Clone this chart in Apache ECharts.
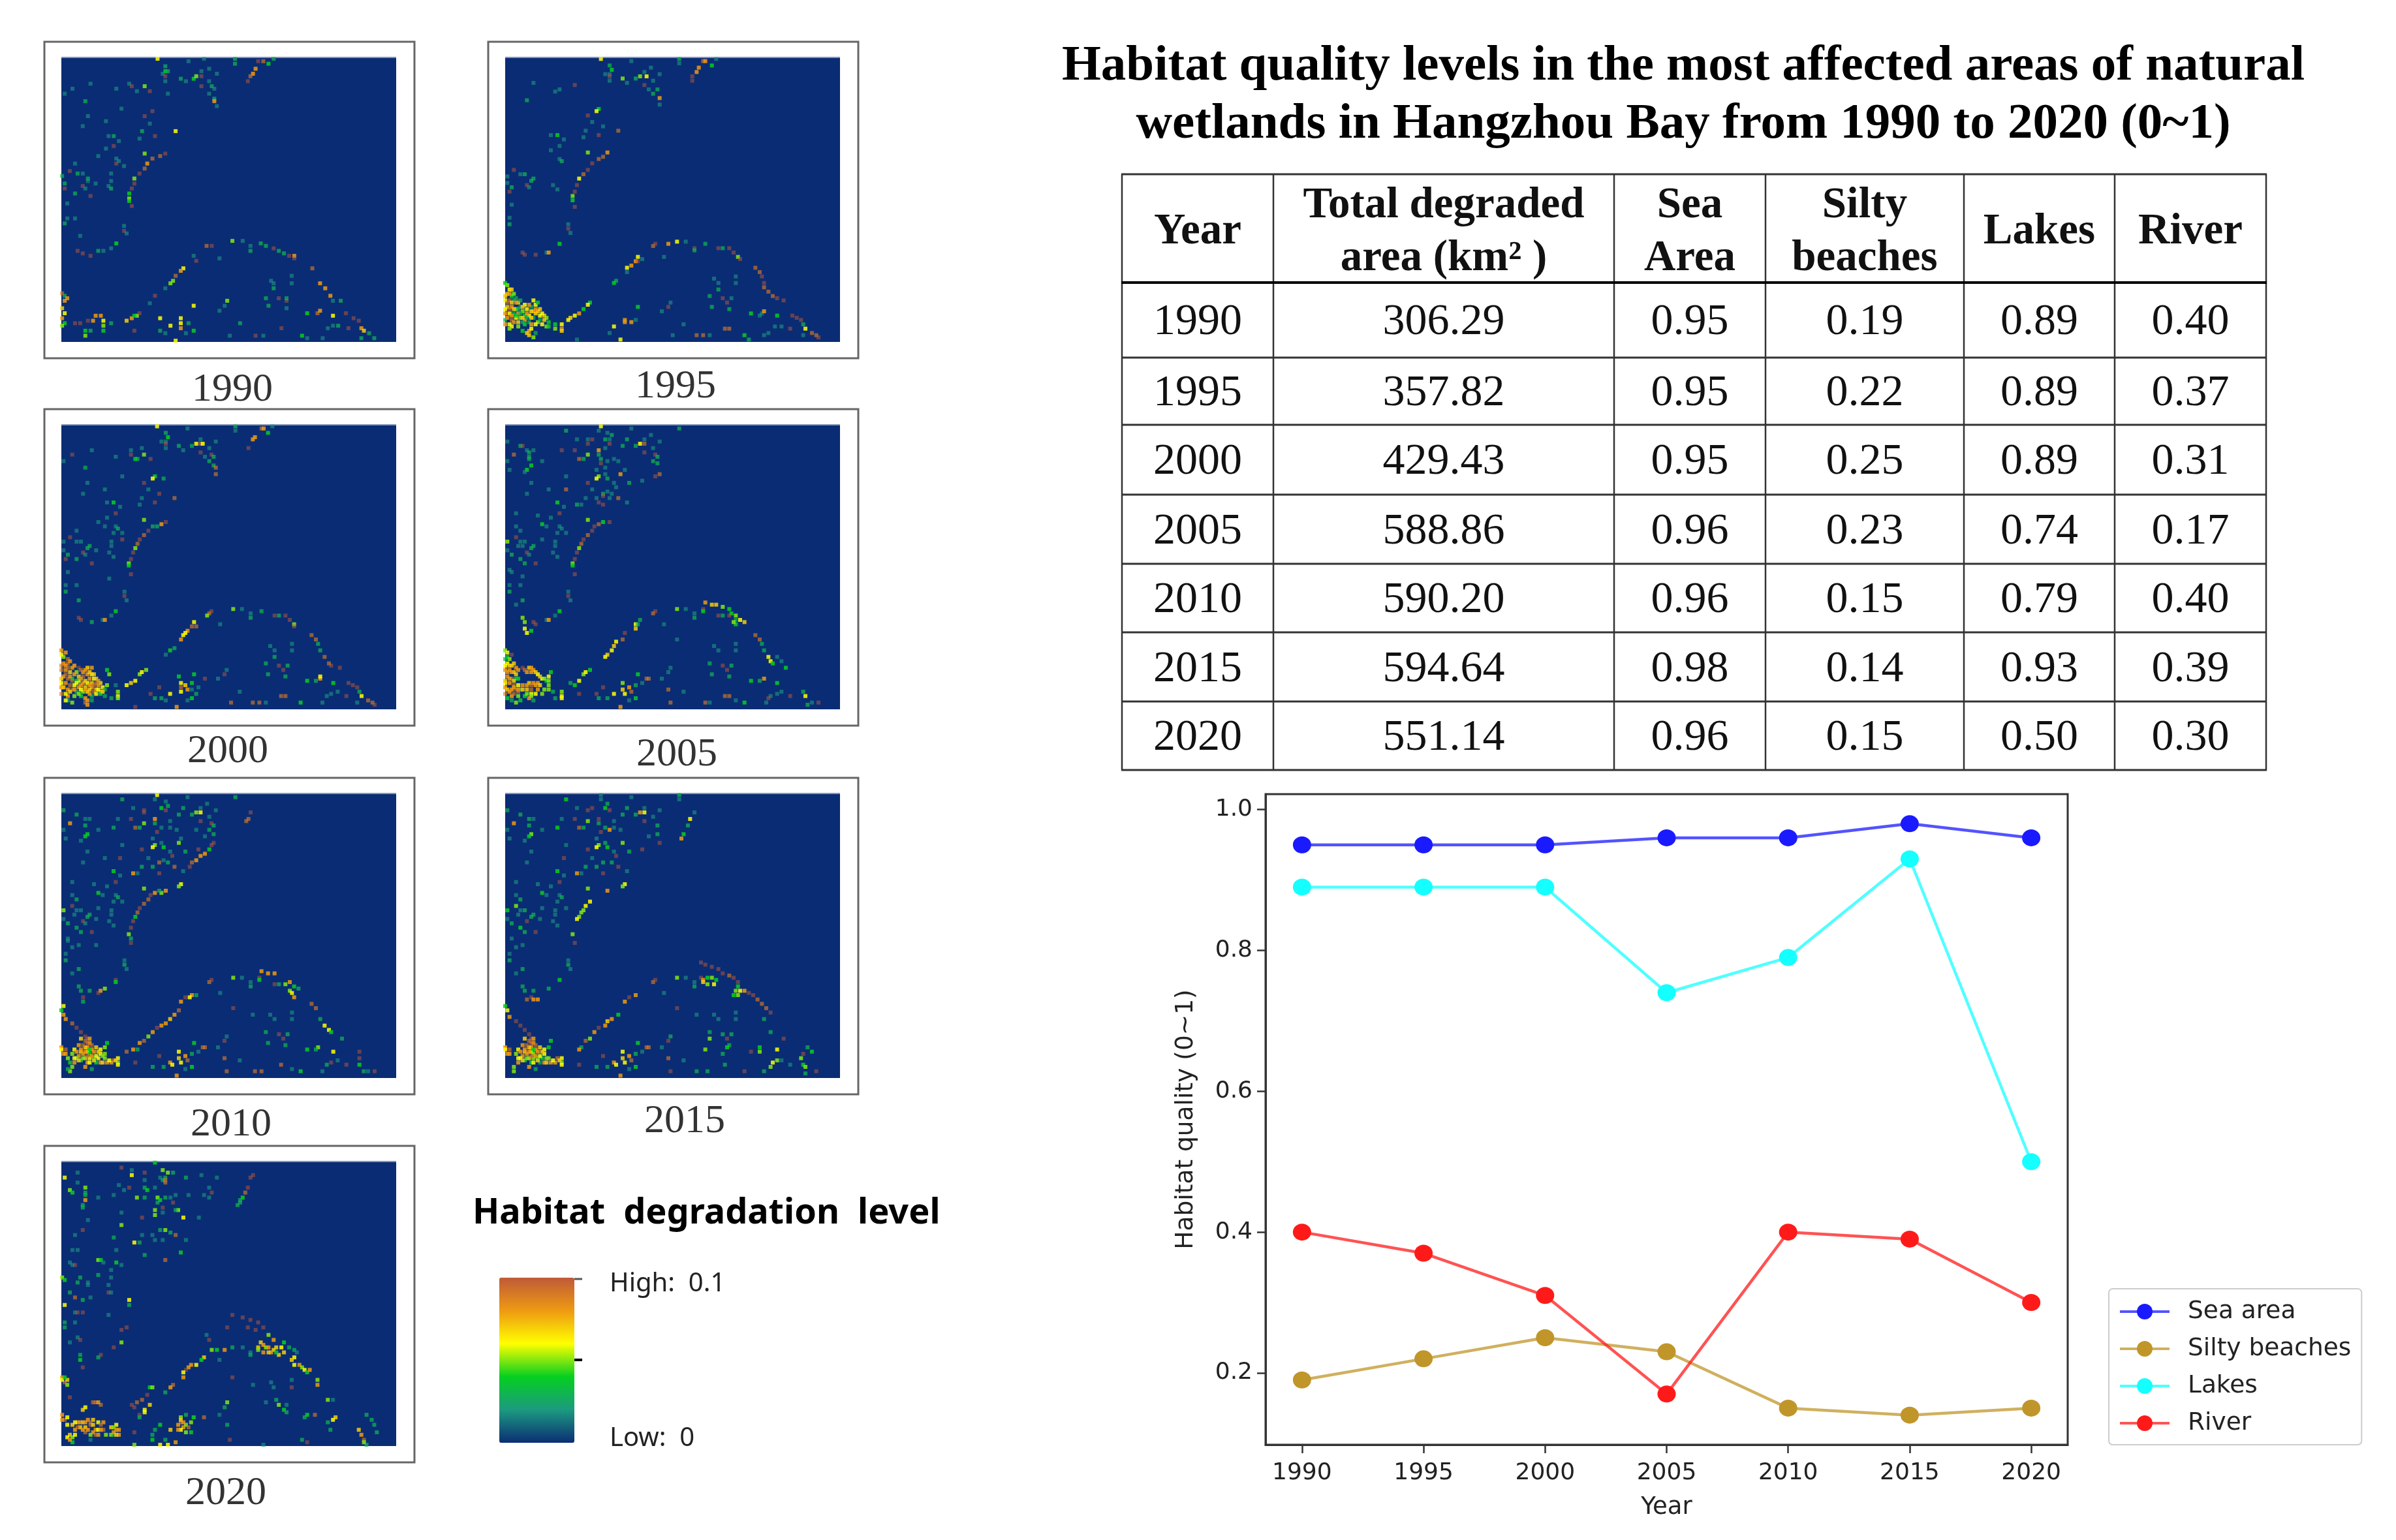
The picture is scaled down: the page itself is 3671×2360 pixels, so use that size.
<!DOCTYPE html>
<html><head><meta charset="utf-8">
<script src="https://cdn.jsdelivr.net/npm/echarts@6/dist/echarts.min.js"></script>
<style>html,body{margin:0;background:#fff}#c{width:3671px;height:2360px}</style></head>
<body><div id="c"></div>
<script>
const years=[1990,1995,2000,2005,2010,2015,2020];
const seaArea=[0.95,0.95,0.95,0.96,0.96,0.98,0.96];
const siltyBeaches=[0.19,0.22,0.25,0.23,0.15,0.14,0.15];
const lakes=[0.89,0.89,0.89,0.74,0.79,0.93,0.50];
const river=[0.40,0.37,0.31,0.17,0.40,0.39,0.30];
const totalArea=['306.29','357.82','429.43','588.86','590.20','594.64','551.14'];
const yTicks=[0.2,0.4,0.6,0.8,1.0];
// raster speckles: x, y, level (level/100 = degradation)
const map1990=[51,13,6,63,14,2,69,13,2,81,13,3,81,15,3,54,16,3,54,18,4,55,18,3,53,19,2,54,20,10,54,22,2,60,21,3,62,22,2,65,21,4,66,20,5,68,20,10,68,18,2,71,17,2,74,19,2,71,22,2,72,24,3,73,25,2,68,24,10,71,27,2,73,29,3,73,30,8,74,32,2,90,14,10,92,14,9,94,15,4,96,13,3,89,17,8,88,19,8,87,20,9,86,22,10,18,25,2,25,23,2,15,27,2,35,25,2,23,30,3,40,23,2,41,24,10,43,26,2,46,24,5,48,26,10,55,27,2,37,33,2,49,34,10,46,36,10,24,36,2,31,38,2,48,39,2,22,40,2,45,42,3,58,42,6,50,44,10,44,45,2,32,44,2,34,44,3,36,46,2,34,48,10,46,51,5,31,49,2,28,52,2,35,53,2,36,54,2,35,55,10,38,56,2,19,55,2,14,60,3,17,58,10,20,59,3,22,59,2,24,61,3,24,62,2,33,59,2,33,62,2,32,64,2,33,65,3,27,63,2,22,64,10,23,65,2,19,67,3,25,68,10,15,63,3,15,65,10,54,51,10,52,52,9,49,53,9,47,55,8,46,57,9,44,59,10,42,61,5,42,63,10,41,65,10,40,67,4,40,69,5,40,70,4,41,72,10,16,71,2,16,77,2,19,77,2,15,79,3,38,80,2,38,82,10,39,83,2,21,84,2,35,87,4,33,89,2,30,90,2,28,90,3,20,90,10,22,91,10,25,92,10,70,88,9,72,88,10,80,86,5,84,86,2,87,88,2,87,90,3,91,87,3,93,88,3,96,89,10,98,90,3,100,91,3,102,92,10,104,92,8,104,93,10,65,92,2,66,94,10,75,93,2,61,97,6,60,98,8,58,100,9,57,102,5,56,103,5,54,105,2,50,108,10,48,111,2,111,97,9,114,103,8,116,105,8,118,108,8,119,110,2,122,110,3,95,102,2,96,103,2,103,100,2,103,103,2,96,105,3,93,109,3,98,109,10,101,110,10,101,109,3,94,112,3,101,113,2,78,110,5,77,112,2,75,114,2,65,112,6,109,115,4,113,115,9,114,114,8,119,116,6,124,115,10,127,117,10,129,118,10,130,121,8,131,122,7,133,123,3,135,125,3,117,121,2,119,120,2,121,120,3,125,121,10,99,121,10,83,119,3,79,124,2,89,124,10,92,124,2,107,124,4,109,125,2,115,125,2,130,125,3,60,117,6,60,119,6,60,121,8,56,120,6,52,117,6,52,122,3,54,123,2,63,119,3,62,123,2,65,122,4,58,126,6,42,122,10,14,107,9,15,108,3,15,110,8,14,113,7,15,115,6,14,117,8,16,109,8,15,119,4,14,120,5,19,119,10,21,119,10,24,118,10,26,118,8,27,116,8,29,116,8,30,118,6,30,120,5,33,119,3,30,122,4,23,122,4,23,124,5,25,122,3,39,118,7,41,117,8,43,116,5,44,115,10,42,116,4];
const map1995=[44,1,6,58,2,2,80,1,3,80,3,2,91,2,9,92,2,8,95,4,4,97,1,2,48,4,3,49,6,4,48,8,2,46,8,2,48,9,10,48,11,2,54,10,5,56,12,2,60,10,3,62,9,5,65,9,6,64,7,2,67,5,2,71,8,2,64,13,10,66,15,2,68,11,2,68,17,3,70,15,3,71,19,8,71,22,2,89,5,8,88,7,8,86,9,10,86,11,10,13,12,2,10,20,3,25,15,2,32,13,10,23,16,2,43,24,4,42,25,6,38,27,10,40,30,2,45,32,2,37,34,2,52,34,9,43,36,10,36,37,2,24,36,4,21,36,2,27,38,2,25,41,2,21,43,2,38,44,5,25,47,2,26,48,3,47,44,8,45,46,9,43,47,9,40,49,10,38,52,10,36,54,9,34,56,6,33,59,10,32,62,10,31,64,5,31,66,4,32,69,10,4,52,10,1,55,2,7,54,2,9,54,3,13,56,3,12,57,3,10,59,10,11,60,2,22,59,2,24,61,2,1,58,2,3,60,3,2,62,10,3,68,2,2,74,2,2,77,3,29,77,2,29,79,10,30,81,2,25,86,4,8,90,10,9,91,10,14,91,10,19,90,2,20,90,8,68,87,9,69,86,10,75,86,8,79,85,6,83,85,2,87,88,10,87,89,3,92,86,3,98,88,10,100,88,3,103,88,10,105,90,10,107,92,5,108,93,10,73,92,2,61,92,6,60,94,8,61,94,10,63,93,2,58,96,8,56,97,6,56,99,2,51,103,3,50,104,4,115,97,9,117,99,9,118,101,10,119,104,10,119,106,9,121,108,9,123,110,9,125,111,10,128,112,10,96,102,2,98,104,2,98,107,3,106,101,2,106,104,2,94,110,3,100,111,10,102,113,10,104,111,2,95,115,3,103,116,3,76,113,2,75,115,10,72,117,2,61,115,4,113,118,4,118,118,2,119,117,8,117,119,2,125,119,4,132,119,10,134,120,10,136,121,10,137,123,3,138,125,6,141,127,9,143,128,9,144,129,10,121,127,2,124,124,2,127,124,2,131,125,10,101,125,9,103,125,9,88,128,9,91,128,9,94,128,2,77,128,2,82,123,2,110,128,4,119,128,2,112,130,3,137,128,2,55,121,8,55,122,8,58,122,8,60,121,2,50,124,6,48,127,2,53,130,6,33,130,2,39,113,4,38,114,6,36,116,4,34,118,8,32,119,6,30,120,7,29,121,6,23,123,4,23,125,5,26,123,6,26,125,8,26,126,7,0,104,4,2,107,6,1,109,7,3,110,4,0,112,6,2,112,9,4,112,3,6,113,7,1,115,7,3,115,8,5,116,5,0,118,8,2,118,6,4,118,3,6,118,8,8,117,5,10,116,6,12,115,3,14,114,6,13,117,8,15,117,7,9,119,4,11,119,6,7,120,5,0,121,3,3,121,9,5,120,6,9,121,8,13,120,3,16,119,6,18,119,7,8,122,3,11,122,3,0,123,8,3,124,6,6,124,5,15,122,5,17,123,6,19,124,5,12,123,8,11,126,8,11,128,7,14,127,3,1,105,5,3,107,7,2,109,8,0,110,7,4,109,5,5,111,3,7,112,3,1,113,9,3,113,7,5,113,8,7,115,3,9,114,6,11,114,8,13,112,6,15,113,4,4,116,7,2,116,9,0,116,6,6,116,3,8,115,7,10,118,8,12,117,7,14,116,8,16,116,7,1,120,8,3,119,8,5,119,4,7,118,3,8,120,7,10,120,3,12,120,7,14,118,7,17,118,6,19,120,5,2,123,6,4,122,8,6,122,7,9,123,4,14,123,6,16,121,3,18,121,7,20,122,4,12,125,6,10,127,7,13,129,5,8,126,4,2,125,5,20,124,4];
const map2000=[44,1,6,58,2,2,80,1,3,80,3,2,92,2,9,93,2,8,95,4,4,97,1,2,48,4,3,49,6,4,48,8,2,46,8,2,48,9,10,48,11,2,54,10,3,56,12,2,60,10,3,62,9,6,64,9,9,65,9,6,64,7,2,68,11,2,71,8,2,64,13,10,66,15,2,69,14,10,70,15,3,68,17,3,70,19,3,71,20,9,71,23,9,89,6,8,88,7,8,86,11,10,5,14,10,1,17,2,14,12,2,11,20,3,25,15,2,32,12,2,32,14,10,37,11,2,38,14,5,35,16,3,34,16,4,41,16,10,28,24,2,43,24,4,42,25,6,47,25,3,38,27,10,12,27,2,20,30,2,40,30,2,10,32,2,45,32,10,37,34,2,52,34,9,43,36,10,24,36,4,21,36,2,27,38,2,36,37,2,25,41,10,21,43,2,38,44,5,17,45,2,20,47,2,25,47,2,26,48,3,7,49,2,24,50,2,28,50,2,48,45,10,46,46,8,44,47,3,42,47,3,40,49,10,38,51,9,36,53,10,35,55,9,34,57,5,33,59,10,32,62,10,31,64,5,31,65,4,32,69,10,4,52,10,1,54,2,7,54,2,9,54,2,13,56,3,12,57,3,23,54,2,28,53,10,23,56,2,16,58,2,10,59,10,11,60,2,22,59,2,24,61,2,1,58,2,3,60,3,2,62,10,7,62,3,14,64,10,3,68,2,22,71,2,2,74,2,7,74,2,2,77,3,29,77,2,29,79,10,30,81,2,8,81,3,25,86,4,23,88,2,8,89,10,9,90,10,14,91,3,19,90,2,20,90,8,68,87,9,69,86,10,67,88,5,79,85,5,83,85,2,87,87,2,87,89,3,92,86,3,98,88,10,100,88,3,103,88,10,105,90,10,107,92,5,107,93,10,73,92,2,61,91,6,60,93,9,62,93,9,58,95,8,57,96,6,56,97,6,55,99,8,52,103,3,50,104,4,48,106,2,115,97,9,117,99,9,118,101,3,119,104,3,121,107,9,123,110,9,124,111,10,128,112,10,96,102,2,98,104,2,98,107,3,106,101,2,106,104,2,94,110,3,100,111,10,102,113,10,104,111,3,95,115,3,103,116,3,76,113,2,75,115,10,72,117,2,61,115,4,66,117,10,113,118,4,117,118,3,119,117,8,119,116,6,125,119,4,132,119,10,134,120,10,136,121,10,137,123,3,138,125,6,141,127,9,143,128,9,144,129,10,122,125,2,124,124,2,127,123,2,131,125,10,101,125,9,103,125,9,82,123,2,78,128,9,88,128,9,91,128,9,94,128,2,110,128,4,120,128,2,136,128,2,54,116,4,55,119,6,55,121,9,55,123,6,57,120,7,58,122,8,60,119,4,60,122,2,63,121,2,62,124,3,60,126,4,58,127,2,45,121,10,41,124,10,43,126,3,46,126,3,50,124,6,48,127,2,53,130,8,34,130,10,30,120,6,32,119,7,34,118,6,36,115,5,37,114,6,39,113,5,21,113,4,22,115,5,25,120,2,26,123,5,26,125,6,26,126,5,23,126,3,0,104,8,1,107,5,3,108,9,1,110,8,3,110,9,5,112,8,0,113,9,2,113,8,4,114,7,8,112,10,12,112,7,14,112,8,10,114,8,12,115,8,14,115,6,8,116,7,10,116,9,15,117,6,1,116,8,3,117,9,5,117,4,0,119,6,2,119,8,4,120,9,6,120,6,8,118,6,10,119,8,12,119,6,14,119,7,16,119,9,18,119,7,8,121,8,11,121,7,14,121,8,16,122,7,19,121,6,0,121,8,3,122,8,5,122,9,7,123,3,10,123,5,12,123,7,15,123,9,18,123,8,0,124,9,3,125,8,6,125,5,9,125,4,11,126,8,14,125,3,18,124,4,20,122,3,20,125,3,3,127,3,5,128,5,11,128,9,14,127,3,2,105,8,0,106,6,4,109,8,2,111,8,6,111,8,0,111,9,3,112,9,7,114,5,9,113,9,11,113,8,13,114,7,15,115,7,6,115,8,2,115,9,4,116,8,0,117,7,7,118,4,9,117,8,11,118,7,13,117,8,16,117,7,17,118,8,1,121,7,5,118,9,7,119,6,9,120,8,13,120,8,15,120,9,17,120,8,21,120,5,4,123,7,2,124,6,6,122,8,9,122,6,11,122,8,13,122,7,17,122,6,19,123,7,8,124,5,13,124,8,16,124,6,2,127,6,12,127,8,12,129,8];
const map2005=[44,1,6,28,3,3,43,3,2,58,2,2,80,2,3,47,4,2,49,5,3,46,7,3,48,7,2,33,7,2,38,7,2,40,7,10,56,7,3,67,5,2,64,7,2,71,8,2,54,10,3,60,10,3,62,9,6,64,9,9,1,8,2,7,10,3,8,10,10,38,9,10,48,9,10,46,11,2,43,12,8,26,12,10,32,12,10,10,12,2,13,12,2,11,13,3,4,14,9,43,14,3,38,14,5,36,16,3,34,16,9,11,15,3,11,16,3,17,17,2,1,17,2,44,16,3,47,17,2,50,16,2,52,17,2,44,18,10,12,19,4,10,21,4,9,22,2,68,11,2,64,13,10,69,14,10,70,15,3,68,17,3,70,18,3,2,21,2,46,20,2,55,21,2,53,23,8,42,21,2,46,23,2,43,24,5,42,25,6,47,25,3,71,23,9,69,24,10,28,24,2,38,27,10,50,27,2,57,27,3,63,26,2,12,27,2,20,30,2,28,30,9,40,30,2,10,32,2,45,32,3,47,31,2,51,29,2,49,32,2,45,33,10,37,34,2,42,34,2,48,34,2,52,34,9,43,36,10,24,36,4,27,38,2,33,37,3,35,37,2,56,36,2,45,37,10,25,41,10,5,41,2,15,42,2,21,43,2,38,44,5,48,45,10,45,45,4,43,46,9,41,47,10,40,49,10,38,51,9,36,53,10,35,55,9,34,57,5,33,59,10,32,62,10,31,64,5,31,65,4,32,69,10,17,46,4,19,47,2,5,47,2,7,49,2,25,47,2,26,48,2,24,50,2,28,50,2,5,52,10,1,54,5,17,53,2,23,54,2,7,54,2,9,54,2,13,56,3,12,57,3,6,56,2,8,56,2,1,58,2,23,56,2,10,59,10,11,60,2,22,59,2,24,61,2,3,60,3,7,62,3,9,64,3,14,64,10,2,67,2,3,68,2,8,70,2,2,74,2,7,74,2,2,77,3,29,77,2,29,79,10,30,81,2,8,81,3,5,83,2,25,86,4,23,88,2,8,89,5,9,91,5,19,90,2,20,90,8,13,91,10,14,92,10,9,94,6,10,96,6,12,95,4,68,87,9,69,86,10,79,85,5,83,85,2,87,87,2,87,89,3,91,85,10,91,86,4,92,82,8,95,83,7,97,83,7,100,84,5,103,85,4,104,87,4,106,88,5,108,90,6,110,91,7,106,90,3,106,92,4,98,88,10,100,88,3,103,88,10,105,91,5,73,92,2,62,90,3,60,92,6,60,94,7,61,92,3,55,96,10,54,99,9,51,100,6,50,102,7,49,104,6,47,106,7,46,107,6,79,99,2,96,102,2,98,104,2,106,101,2,106,104,2,115,97,9,117,99,9,118,101,3,119,104,3,121,107,6,122,109,6,123,110,4,125,107,2,127,109,2,129,112,4,94,110,3,100,111,10,102,113,10,104,111,3,95,115,3,103,116,3,76,112,2,75,114,2,72,117,2,61,115,4,66,117,9,113,118,4,117,118,3,119,117,8,125,119,4,125,124,2,122,125,2,121,126,10,127,123,2,131,125,10,137,123,3,138,125,6,139,129,3,141,128,2,144,128,10,101,125,9,103,125,9,76,128,9,92,128,9,94,128,2,106,127,2,110,128,4,120,128,2,75,122,9,82,123,2,54,119,5,54,122,7,55,124,6,57,121,8,60,120,3,58,123,9,60,126,4,57,127,2,63,119,2,65,117,9,45,121,10,50,124,6,47,126,3,42,124,10,43,126,3,53,130,8,34,124,10,30,119,3,34,118,6,32,120,4,36,115,5,37,114,6,39,113,4,26,123,5,26,125,6,26,126,6,23,126,3,0,104,5,1,107,4,3,106,10,0,108,3,1,110,6,3,111,7,5,112,8,0,113,8,2,113,8,4,114,7,8,112,10,11,112,7,13,113,8,15,115,6,10,114,8,12,114,8,17,117,6,20,116,6,21,114,4,19,118,4,1,116,8,3,117,9,5,117,4,0,119,6,2,119,8,4,120,9,6,120,6,13,119,8,11,119,7,15,119,8,20,120,5,0,121,8,3,122,8,5,122,9,7,122,3,10,122,7,12,122,9,15,122,8,20,122,5,0,124,9,3,125,8,6,125,5,9,125,4,11,126,8,17,124,5,22,123,3,3,127,3,5,128,5,13,127,3,1,105,6,2,108,5,4,110,7,2,111,7,0,111,6,6,113,8,9,113,9,12,112,8,14,114,7,16,116,7,18,117,5,1,114,8,3,114,8,5,115,7,6,117,4,2,117,8,0,118,7,4,118,7,20,118,5,1,122,7,4,121,8,6,122,8,8,120,8,10,120,8,12,120,9,14,120,8,16,120,7,2,123,8,4,124,9,6,123,9,8,122,7,10,124,5,12,124,6,14,124,6,18,122,5,1,126,4,7,127,4,12,125,5];
const map2010=[44,1,6,28,3,3,43,3,2,58,2,2,80,2,3,48,4,2,49,6,3,46,7,4,48,8,10,33,7,2,38,8,10,56,7,3,64,7,2,67,5,2,71,8,2,54,10,3,60,10,3,62,9,5,64,9,6,1,8,3,7,10,3,87,9,10,86,12,9,85,13,9,38,9,10,43,12,8,26,12,2,32,12,10,11,12,2,13,12,2,4,14,8,38,14,5,11,15,3,43,14,3,50,13,2,36,16,3,34,16,9,24,16,3,17,17,2,1,17,2,44,18,10,46,16,2,50,16,2,53,17,2,62,17,2,68,11,2,64,13,10,69,14,10,70,15,3,68,17,3,70,19,3,12,19,4,11,20,4,9,22,2,2,21,2,66,20,2,42,21,2,46,23,2,43,24,5,42,25,6,47,25,4,54,23,5,55,21,2,70,23,10,69,24,10,68,26,4,66,28,8,64,29,8,62,31,8,60,32,9,59,34,10,28,24,2,37,26,10,50,27,2,57,27,3,63,26,10,12,27,2,20,30,2,27,30,10,40,30,2,51,29,10,45,32,9,47,31,2,49,32,3,10,32,2,52,34,9,37,34,3,42,34,3,33,37,8,35,37,2,56,36,2,45,37,10,24,36,4,27,38,2,5,41,2,25,41,10,15,42,2,21,43,2,55,42,6,54,43,5,38,44,5,48,45,8,46,46,5,43,46,8,45,45,3,41,47,10,40,49,9,38,51,9,36,53,10,35,55,9,34,57,4,33,59,10,32,62,10,31,65,5,32,67,3,32,69,10,17,46,4,19,47,2,5,47,2,7,49,3,25,47,2,26,48,3,24,50,2,28,50,2,5,52,10,1,54,5,17,53,2,23,54,2,7,54,2,9,54,2,13,56,3,12,57,3,6,56,2,1,58,2,16,58,2,23,56,2,10,59,10,11,60,2,22,59,2,24,61,2,3,60,3,7,62,3,9,64,3,14,64,10,3,67,2,3,68,2,5,71,2,8,70,2,16,70,2,2,74,2,2,77,3,29,77,2,29,79,3,30,81,2,8,81,3,5,83,2,25,86,10,25,87,4,8,89,3,9,91,3,20,90,5,18,91,8,17,92,10,13,91,3,10,94,10,10,96,3,68,87,9,69,86,10,79,85,5,83,85,2,87,87,2,87,89,3,91,85,10,92,82,8,95,83,8,98,83,8,91,86,4,98,88,10,100,88,3,103,88,5,105,87,8,107,89,4,109,90,3,105,91,5,106,92,6,107,94,8,73,92,2,60,93,8,57,94,10,55,96,8,59,94,6,62,93,3,54,100,9,52,102,8,50,104,7,48,106,8,46,107,8,44,108,10,42,110,8,40,112,5,38,114,9,36,115,8,35,118,3,33,118,8,30,119,9,115,97,9,117,99,9,119,104,3,121,107,6,123,109,6,124,110,4,129,113,3,79,99,10,88,102,2,96,102,2,98,104,2,106,101,2,106,104,2,94,110,3,100,111,10,102,113,10,104,111,3,95,115,3,103,116,3,76,112,2,75,114,10,72,117,2,61,115,4,66,117,9,113,118,4,118,117,5,117,118,3,125,119,6,122,125,3,124,124,10,127,123,2,131,125,10,137,119,10,137,122,10,137,125,4,139,128,3,141,128,2,144,128,10,101,125,9,76,128,9,89,128,9,92,128,9,110,128,4,120,128,2,106,127,2,75,122,9,82,123,2,54,119,6,54,122,7,55,124,6,57,121,8,60,120,3,58,123,9,60,126,4,57,127,2,63,119,2,65,117,9,45,121,10,50,124,8,51,125,6,47,126,3,42,126,3,53,130,8,34,124,10,1,98,6,0,100,4,1,102,8,2,104,8,5,106,9,7,108,10,9,110,10,11,112,10,12,113,10,13,115,8,12,117,8,14,116,9,11,117,7,9,119,7,16,117,7,18,118,6,21,115,4,20,117,5,0,117,8,2,118,9,1,120,8,10,120,8,12,119,6,15,119,8,8,121,8,13,120,4,18,120,6,20,120,5,7,122,5,11,122,7,13,122,6,15,122,4,17,122,6,19,121,5,6,124,8,9,123,4,12,124,8,16,124,4,18,124,8,21,124,8,24,123,9,26,122,6,26,124,5,26,125,6,23,124,8,5,126,5,11,126,8,14,127,3,4,128,5,3,127,3,9,113,7,11,114,9,13,113,8,10,116,9,12,115,9,8,116,8,14,118,8,6,118,6,7,119,8,5,120,5,9,118,8,11,119,8,13,118,4,17,119,7,16,121,6,14,121,8,12,121,9,10,122,5,8,123,7,6,122,6,15,123,7,13,124,6,20,122,5,19,124,7,22,123,6,0,118,6,2,120,8,3,122,5,4,124,4,25,123,7];
const map2015=[44,1,2,28,3,4,44,3,2,58,2,2,80,1,3,80,3,2,47,5,3,46,7,4,48,8,10,33,7,2,38,8,10,40,7,10,56,7,3,64,7,2,71,8,2,62,9,8,64,9,6,54,10,3,60,10,3,1,8,3,7,10,3,87,9,2,26,12,2,32,12,10,38,13,5,11,12,3,13,12,2,4,14,8,43,12,10,43,14,3,50,13,2,36,16,3,34,16,9,24,16,4,11,15,3,17,17,2,1,17,2,44,18,10,48,17,8,46,16,3,50,16,2,53,17,2,64,13,10,68,11,2,70,15,3,85,12,6,84,15,3,12,19,5,11,20,4,9,22,2,2,21,2,66,20,2,70,19,3,82,19,4,81,21,8,42,21,2,46,23,3,43,24,5,42,25,6,47,25,4,54,23,5,71,23,10,28,24,2,38,26,10,50,27,2,57,27,3,63,26,10,12,27,2,27,30,10,40,30,2,45,32,3,49,32,3,51,29,10,10,32,2,52,34,10,37,34,3,42,34,3,33,37,8,35,37,2,56,36,2,45,37,10,24,36,4,27,38,2,5,41,2,25,41,10,15,42,2,21,43,2,38,44,5,55,42,6,54,43,5,47,45,8,39,50,6,37,52,6,36,54,5,35,55,5,34,57,5,33,58,6,17,46,4,19,47,2,5,47,2,7,49,3,25,47,2,26,48,3,24,50,2,5,52,5,1,54,4,17,53,2,23,54,2,7,54,2,9,54,3,28,53,2,13,56,3,12,57,3,6,56,2,1,58,2,16,58,2,23,56,2,10,59,10,22,59,2,24,61,2,3,60,3,7,62,4,9,64,3,14,64,10,31,65,5,32,69,10,3,67,2,5,71,2,8,70,2,2,74,2,2,77,3,29,77,2,29,79,3,30,81,2,8,81,3,5,83,2,25,86,4,8,89,3,9,91,3,20,90,3,68,87,9,69,86,10,79,85,5,83,85,2,87,87,2,87,89,3,90,78,10,92,79,10,95,80,10,98,81,10,100,83,10,103,84,9,105,85,10,107,87,10,90,85,10,91,86,8,93,85,4,95,85,5,97,86,4,91,87,7,93,88,5,96,88,6,107,89,4,108,91,6,106,91,5,105,93,4,107,93,5,110,91,8,112,92,10,114,93,10,116,95,9,118,97,9,120,99,9,122,101,10,73,92,2,12,94,10,10,95,9,13,95,8,15,95,8,13,91,3,60,93,8,57,94,10,55,96,8,52,102,4,49,104,8,47,105,7,46,107,8,43,108,10,41,110,8,39,113,5,37,114,9,35,117,3,34,118,8,79,99,10,88,102,2,96,102,2,98,104,2,106,101,2,106,104,2,119,104,3,122,110,3,94,110,3,94,113,5,100,111,3,102,113,10,104,111,3,103,116,3,128,113,10,76,112,3,75,114,10,72,117,2,61,115,4,66,117,9,102,117,4,100,120,3,92,118,5,113,119,10,117,117,4,117,119,5,125,118,6,139,117,3,141,119,4,137,120,10,136,122,5,137,125,4,138,126,5,123,124,6,122,126,5,125,123,5,127,123,2,131,125,2,82,123,2,101,125,3,76,128,10,88,128,3,93,128,3,110,128,10,119,128,3,138,129,3,143,128,10,75,122,9,54,119,6,54,122,7,55,124,6,57,121,8,58,123,9,60,120,3,60,126,4,57,127,2,63,119,2,65,117,9,45,121,10,50,124,8,51,125,6,47,126,3,42,126,3,53,130,8,34,125,10,0,98,4,1,100,6,2,103,8,5,105,10,7,107,10,9,109,10,11,111,10,12,113,10,13,115,8,12,117,8,14,116,9,11,117,7,9,119,7,16,117,7,18,118,6,21,114,4,20,117,4,0,117,8,2,118,9,1,120,8,10,120,8,12,119,6,15,119,8,8,121,8,13,120,5,18,120,6,7,122,6,11,122,7,13,122,5,15,122,4,17,122,4,19,122,5,6,124,8,9,123,4,12,124,4,16,124,3,18,124,8,21,124,8,24,122,9,26,122,6,26,124,5,26,125,6,23,124,8,4,126,5,11,126,8,14,127,3,4,128,5,9,113,7,11,114,9,13,113,8,10,116,9,12,115,9,8,116,8,14,118,8,6,118,6,7,119,8,5,120,5,9,118,8,11,119,8,13,118,4,17,119,7,16,121,6,14,121,8,12,121,9,10,122,5,8,123,7,6,122,6,15,123,7,13,124,6,20,122,5,19,124,7,22,123,6,0,118,6,2,120,8,25,123,7];
const map2020=[23,10,2,50,11,4,37,13,10,41,14,2,41,16,6,46,15,10,53,14,5,55,15,5,57,15,3,62,17,3,68,16,2,74,17,2,88,16,10,87,17,10,15,17,6,20,15,2,20,19,2,54,17,3,53,18,3,46,18,2,52,17,2,54,18,9,54,19,9,17,22,5,18,23,4,23,21,5,23,23,3,36,20,2,38,22,2,40,21,10,46,21,3,47,22,4,50,21,2,86,21,10,85,23,9,84,25,4,83,26,3,71,21,2,72,23,10,71,25,2,34,24,2,43,25,5,46,25,3,51,25,5,54,25,3,56,25,2,58,24,2,63,24,2,69,24,2,23,24,3,23,26,8,22,28,3,22,29,3,28,25,2,52,26,4,51,27,3,57,27,10,83,27,3,82,28,3,50,30,5,50,32,5,59,30,5,53,31,2,58,30,3,53,29,10,61,33,6,45,33,10,67,33,2,37,31,2,24,34,2,37,36,5,22,38,10,54,38,5,56,39,3,52,38,3,19,40,2,58,40,9,34,41,3,49,40,2,45,40,2,42,43,6,44,43,3,50,42,2,53,42,2,62,42,2,18,46,2,20,46,2,35,46,2,46,48,3,60,47,4,54,50,9,28,50,5,29,50,4,30,51,2,35,51,4,37,52,2,17,51,2,18,52,2,19,52,10,14,57,5,15,58,4,21,57,3,28,56,3,33,54,2,33,57,2,24,59,2,24,60,2,20,59,3,17,63,3,19,65,9,22,66,3,25,65,2,32,60,2,32,63,10,33,63,2,15,68,6,40,66,6,40,68,3,19,71,2,20,71,10,22,71,10,32,72,2,15,75,3,15,77,3,19,75,2,39,77,10,37,78,10,17,83,2,20,81,2,21,82,10,37,83,5,34,85,10,29,88,10,28,89,3,80,72,10,84,73,10,87,74,10,90,75,10,92,77,10,86,77,10,89,78,10,78,77,10,70,80,2,71,82,10,94,80,5,96,82,8,100,83,4,102,85,3,104,86,3,74,86,4,77,86,8,72,86,5,80,85,3,84,85,2,87,87,2,87,88,3,91,83,7,92,84,8,90,85,7,90,86,5,92,87,8,93,85,5,94,85,8,96,86,7,95,87,8,98,88,7,100,87,7,99,85,6,97,85,7,94,87,7,97,87,4,105,87,2,104,89,6,103,90,7,104,92,6,106,92,8,107,93,5,108,94,6,109,95,4,110,94,8,69,89,7,68,90,4,66,92,6,64,92,8,63,93,8,62,94,10,61,95,6,61,97,8,75,90,2,21,88,3,21,90,4,22,93,10,14,97,8,15,99,9,16,100,5,57,100,9,56,101,8,54,103,3,48,101,4,49,101,5,80,97,10,88,100,2,95,99,2,96,101,2,103,98,2,103,101,10,113,98,5,113,100,8,47,104,10,45,106,9,43,107,9,41,108,10,42,109,10,17,105,10,27,107,9,29,108,9,97,106,3,98,108,5,100,110,4,101,111,3,93,107,2,101,108,2,117,106,5,119,106,2,78,107,5,77,109,3,75,112,2,65,113,10,69,113,9,46,111,6,48,108,7,46,110,6,44,112,10,22,110,7,23,109,6,14,112,8,15,114,9,16,116,6,18,116,7,20,115,8,22,115,7,24,114,8,26,114,7,28,115,6,30,115,8,19,118,8,21,117,7,23,117,7,25,116,9,27,118,8,29,116,9,28,118,6,30,118,9,33,117,7,35,116,6,36,118,8,36,120,8,17,120,7,18,121,5,23,119,9,25,120,5,28,120,8,31,120,5,33,120,5,34,120,3,18,123,4,25,122,2,60,113,5,60,115,9,61,117,8,60,118,6,62,116,5,64,115,5,65,113,4,64,119,4,62,112,3,52,116,4,50,118,3,49,120,3,49,122,4,56,118,7,54,122,3,42,119,10,44,113,3,78,116,3,79,122,10,92,124,2,107,122,3,109,123,10,108,113,3,109,112,4,112,112,9,117,115,3,120,113,7,119,114,6,129,118,7,130,120,8,131,122,9,132,124,3,131,123,5,118,118,3,132,112,3,134,114,3,135,116,3,136,119,3,42,124,5,52,124,6,55,124,6,58,123,8,19,115,6,21,115,8,23,115,8,25,115,9,20,117,9,22,118,8,24,118,8,26,116,7,19,120,6,26,119,8,27,120,9,29,118,8,34,117,5,35,118,8,34,119,8,35,120,7,14,114,8,16,113,6,14,98,6,16,98,7,15,97,4,26,107,9,28,107,8,60,114,7,59,116,8,59,118,8,61,115,8,63,117,9,62,119,5,16,121,6,17,122,8];
const maps=[[1990,map1990],[1995,map1995],[2000,map2000],[2005,map2005],[2010,map2010],[2015,map2015],[2020,map2020]];

const panelLayout=[[94,87,13.7,143.5,12.2,126.5,356,598],[774,87,0,153.9,0,131.1,1035,593],[94,650,0,153.9,0,131.1,349,1152],[774,650,0,153.9,0,131.1,1037,1157],[94,1215,0,153.9,0,131.1,354,1724],[774,1215,0,153.9,0,131.1,1049,1719],[94,1779,13.7,143.5,10.3,124.5,346,2289]];
const levelOpacity={2:0.6,3:0.72,9:0.65,10:0.5};
const tableX=[1719,1951,2473,2705,3009,3240,3472];
const tableY=[267,433,548,651,758,864,969,1075,1180];
const serif='"Liberation Serif"';
const graphics=[];
const txt=(text,x,y,font,o={})=>graphics.push({type:'text',silent:true,style:Object.assign({text,x,y,font,fill:'#111',textAlign:'center',textVerticalAlign:'middle'},o)});
const ln=(x1,y1,x2,y2,stroke,lineWidth)=>graphics.push({type:'line',silent:true,shape:{x1,y1,x2,y2},style:{stroke,lineWidth}});
txt('Habitat quality levels in the most affected areas of natural',2579,102,'bold 77px '+serif,{fill:'#000'});
txt('wetlands in Hangzhou Bay from 1990 to 2020 (0~1)',2579,191,'bold 77px '+serif,{fill:'#000'});
tableX.forEach(x=>ln(x,tableY[0],x,tableY[8],'#333',2.5));
tableY.forEach((y,i)=>ln(tableX[0]-1,y,tableX[6]+1,y,i==1?'#000':'#333',i==1?4:3));
const cx=i=>(tableX[i]+tableX[i+1])/2, hb='bold 67px '+serif, rg='68px '+serif;
txt('Year',cx(0),356,hb);
txt('Total degraded',cx(1),316,hb);txt('area (km² )',cx(1),397,hb);
txt('Sea',cx(2),316,hb);txt('Area',cx(2),397,hb);
txt('Silty',cx(3),316,hb);txt('beaches',cx(3),397,hb);
txt('Lakes',cx(4),356,hb);txt('River',cx(5),356,hb);
years.forEach((y,i)=>{
 const m=(tableY[i+1]+tableY[i+2])/2+4;
 [String(y),totalArea[i],seaArea[i].toFixed(2),siltyBeaches[i].toFixed(2),lakes[i].toFixed(2),river[i].toFixed(2)].forEach((t,c)=>txt(t,cx(c),m,rg));
});
panelLayout.forEach((p,i)=>{
 graphics.push({type:'rect',silent:true,shape:{x:p[0]-26,y:p[1]-23,width:567,height:485},style:{fill:'none',stroke:'#666',lineWidth:3}});
 graphics.push({type:'rect',silent:true,shape:{x:p[0],y:p[1],width:513,height:2},style:{fill:'#8596b8'}});
 txt(String(maps[i][0]),p[6],p[7],'62px '+serif,{fill:'#333'});
});
txt('Habitat  degradation  level',724,1860,'bold 54px "Noto Sans"',{textAlign:'left',fill:'#000'});
txt('High:  0.1',934,1968,'40px "Noto Sans"',{textAlign:'left',fill:'#222'});
txt('Low:  0',934,2205,'40px "Noto Sans"',{textAlign:'left',fill:'#222'});
ln(880,1960,892,1960,'#555',3);ln(880,2084,892,2084,'#000',4);

const grid=[],xAxis=[],yAxis=[],series=[];
maps.forEach((m,i)=>{
 const p=panelLayout[i],d=[];
 for(let k=0;k<m[1].length;k+=3)d.push({value:[m[1][k],m[1][k+1],m[1][k+2]/100],itemStyle:{opacity:levelOpacity[m[1][k+2]]||0.85}});
 grid.push({left:p[0],top:p[1],width:513,height:437,show:true,backgroundColor:'#0a2c74',borderWidth:0});
 xAxis.push({type:'value',gridIndex:i,show:false,min:p[2],max:p[3]});
 yAxis.push({type:'value',gridIndex:i,show:false,min:p[4],max:p[5],inverse:true});
 series.push({type:'scatter',name:'map'+m[0],xAxisIndex:i,yAxisIndex:i,data:d,symbol:'rect',symbolSize:6,clip:true,silent:true});
});
const axisText={color:'#222',fontFamily:'DejaVu Sans'};
grid.push({left:1939,top:1217,width:1229,height:997,show:true,borderColor:'#333',borderWidth:3,backgroundColor:'#fff'});
xAxis.push({type:'value',gridIndex:7,min:1988.5,max:2021.5,splitLine:{show:false},name:'Year',nameLocation:'middle',nameGap:78,
 nameTextStyle:Object.assign({fontSize:37},axisText),axisLine:{onZero:false,lineStyle:{color:'#333',width:3}},
 axisTick:{customValues:years,length:13,lineStyle:{color:'#333',width:2.5}},
 axisLabel:Object.assign({customValues:years,fontSize:36,margin:26,formatter:v=>String(v)},axisText)});
yAxis.push({type:'value',gridIndex:7,min:0.098,max:1.022,splitLine:{show:false},name:'Habitat quality (0~1)',nameLocation:'middle',nameGap:103,
 nameTextStyle:Object.assign({fontSize:37.5},axisText),axisLine:{onZero:false,lineStyle:{color:'#333',width:3}},
 axisTick:{customValues:yTicks,length:13,lineStyle:{color:'#333',width:2.5}},
 axisLabel:Object.assign({customValues:yTicks,fontSize:36,margin:20,formatter:v=>v.toFixed(1)},axisText)});
const lineDefs=[['Sea area',seaArea,'#1a1aff'],['Silty beaches',siltyBeaches,'#c0962a'],['Lakes',lakes,'#14ffff'],['River',river,'#ff1a1a']];
lineDefs.forEach(l=>series.push({type:'line',name:l[0],xAxisIndex:7,yAxisIndex:7,data:years.map((y,i)=>[y,l[1][i]]),symbol:'circle',symbolSize:[28,26],
 lineStyle:{color:l[2],width:4.5,opacity:0.75},itemStyle:{color:l[2]},silent:true}));

echarts.init(document.getElementById('c')).setOption({
 animation:false,backgroundColor:'#fff',grid,xAxis,yAxis,series,
 legend:{data:lineDefs.map(l=>l[0]),orient:'vertical',left:3231,top:1975,padding:[16,16,14,15],itemGap:19,itemWidth:76,itemHeight:30,
  borderColor:'#ccc',borderWidth:2,borderRadius:6,backgroundColor:'#fff',lineStyle:{width:4},textStyle:Object.assign({fontSize:37.5,padding:[0,0,0,23]},axisText)},
 visualMap:{type:'continuous',min:0,max:0.1,dimension:2,seriesIndex:[0,1,2,3,4,5,6],calculable:false,left:765,top:1958,itemWidth:115,itemHeight:253,padding:0,showLabel:false,text:null,
  inRange:{color:['#0b2e74','#1c9a80','#05cf20','#ffff00','#ee9a12','#bf5a38']}},
 graphic:{elements:graphics}
});
</script></body></html>
